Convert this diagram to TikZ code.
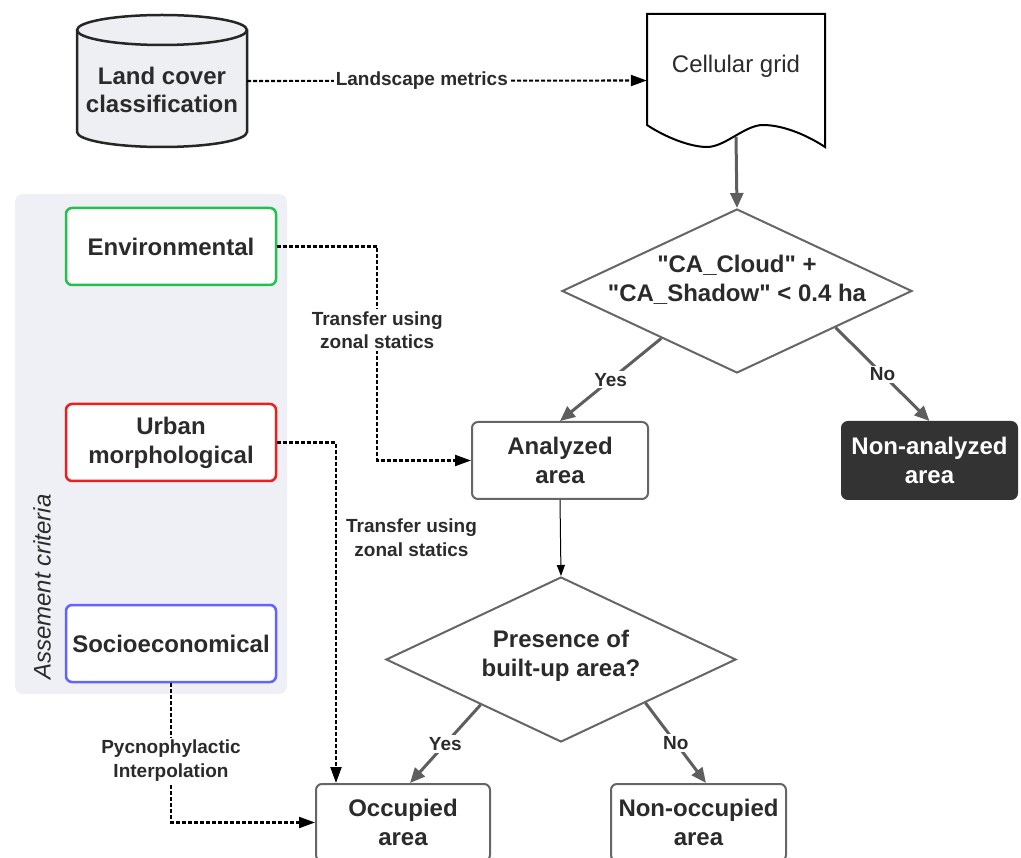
\documentclass[tikz,border=0pt]{standalone}
\usepackage{fontspec}
\setmainfont{Liberation Sans}
\newfontfamily\qfont{Liberation Sans}
\usetikzlibrary{arrows.meta,shapes.geometric,calc}
\definecolor{txt}{HTML}{2B2B2B}
\definecolor{agray}{HTML}{5E5E5E}
\definecolor{bgray}{HTML}{666666}
\definecolor{panelbg}{HTML}{EFF0F5}
\definecolor{cylfill}{HTML}{EEEFF3}
\definecolor{cgreen}{HTML}{22C04E}
\definecolor{cred}{HTML}{F21C1C}
\definecolor{cblue}{HTML}{6363FF}
\definecolor{dark}{HTML}{333333}
\begin{document}
\begin{tikzpicture}[x=1pt,y=-1pt,
  big/.style={font=\fontsize{24}{28.8}\selectfont\bfseries, text=txt, align=center},
  lbl/.style={font=\fontsize{19}{23.5}\selectfont\bfseries, text=txt, align=center, fill=white, inner sep=2pt},
  box/.style={big, draw=bgray, rounded corners=6pt, line width=2pt, minimum height=77, inner sep=0pt},
  crit/.style={box, fill=white, line width=2.5pt, minimum width=210},
  dec/.style={diamond, draw=bgray, line width=2pt, inner sep=0pt, fill=white},
  dashline/.style={draw=black, line width=2.1pt, dash pattern=on 4pt off 2pt, -{Triangle[length=16pt,width=11pt]}},
  flow/.style={draw=agray, line width=3pt, -{Triangle[length=15pt,width=13pt]}},
  thinflow/.style={draw=black, line width=1pt, -{Triangle[length=11pt,width=8pt]}}]
\useasboundingbox (0,0) rectangle (1021,858);
\clip (0,0) rectangle (1021,858);

% assessment panel
\fill[panelbg, rounded corners=8pt] (15,194) rectangle (287,694);
\node[font=\fontsize{24}{28.8}\selectfont\itshape, text=txt, rotate=90] (crittitle) at (42,587) {Assement criteria};

% land cover cylinder
\draw[line width=2.5pt, draw=black!85, fill=cylfill] (77,30) -- (77,132)
  arc[start angle=180, end angle=360, x radius=85pt, y radius=15pt] -- (247,30)
  arc[start angle=0, end angle=180, x radius=85pt, y radius=15pt] -- cycle;
\draw[line width=2.5pt, draw=black!85] (77,30) arc[start angle=180, end angle=360, x radius=85pt, y radius=15pt];
\node[minimum width=170, minimum height=132, inner sep=0pt] (lc) at (162,81) {};
\node[big] (lctext) at (162,90) {Land cover\\classification};

% cellular grid document
\draw[line width=2pt, draw=black, fill=white] (647,14) -- (825,14) -- (825,147)
  .. controls (810,137) and (785,125) .. (763,125)
  .. controls (745,125) and (725,147) .. (707,147)
  .. controls (690,147) and (665,137) .. (647,125) -- cycle;
\node[minimum width=178, minimum height=133, inner sep=0pt] (cg) at (736,80.5) {};
\node[font=\fontsize{24}{28.8}\selectfont, text=txt] (cgtext) at (736,66) {Cellular grid};
\coordinate (cgb) at (736,137);

% criteria boxes
\node[crit, draw=cgreen, minimum height=77] (env) at (171,246.5) {Environmental};
\node[crit, draw=cred, minimum height=77] (urb) at (171,442.5) {Urban\\morphological};
\node[crit, draw=cblue, minimum height=77] (soc) at (171,643.5) {Socioeconomical};

% decisions
\node[dec, minimum width=350, minimum height=164] (d1) at (737,291) {};
\node[big, font=\fontsize{24}{28.8}\selectfont\qfont\bfseries] (d1text) at (737,280) {"CA\_Cloud" +\\"CA\_Shadow" < 0.4 ha};
\node[dec, minimum width=350, minimum height=165] (d2) at (561,659.5) {};
\node[big] (d2text) at (561,656) {Presence of\\built-up area?};

% result boxes
\node[box, minimum width=176] (aa) at (560,460.5) {Analyzed\\area};
\node[box, minimum width=175, fill=dark, draw=dark, text=white] (na) at (929.5,460.5) {Non-analyzed\\area};
\node[box, minimum width=174] (occ) at (403,822.5) {Occupied\\area};
\node[box, minimum width=175] (nocc) at (698.5,822.5) {Non-occupied\\area};

% connectors
\draw[dashline] (lc.east) -- node[lbl, pos=0.437] (lm) {Landscape metrics} (cg.west);
\draw[flow] (cgb) -- (d1.north);
\draw[flow] ($(d1.west)!0.57!(d1.south)$) -- node[lbl] (y1) {Yes} (aa.north);
\draw[flow] ($(d1.east)!0.44!(d1.south)$) -- node[lbl] (n1) {No} (na.north);
\draw[thinflow] (aa.south) -- (d2.north);
\draw[flow] ($(d2.west)!0.543!(d2.south)$) -- node[lbl] (y2) {Yes} ($(occ.north)+(7,0)$);
\draw[flow] ($(d2.east)!0.52!(d2.south)$) -- node[lbl] (n2) {No} ($(nocc.north)+(7.5,0)$);

\draw[dashline] (env.east) -- ++(100,0) |- node[lbl, pos=0.195] (t1) {Transfer using\\zonal statics} (aa.west);
\draw[dashline] (urb.east) -| node[lbl, fill=none, pos=0.64, right, xshift=7pt] (t2) {Transfer using\\zonal statics} ($(occ.north west)+(21,0)$);
\draw[dashline] (soc.south) |- node[lbl, pos=0.278] (pi) {Pycnophylactic\\Interpolation} (occ.west);
\end{tikzpicture}
\end{document}
